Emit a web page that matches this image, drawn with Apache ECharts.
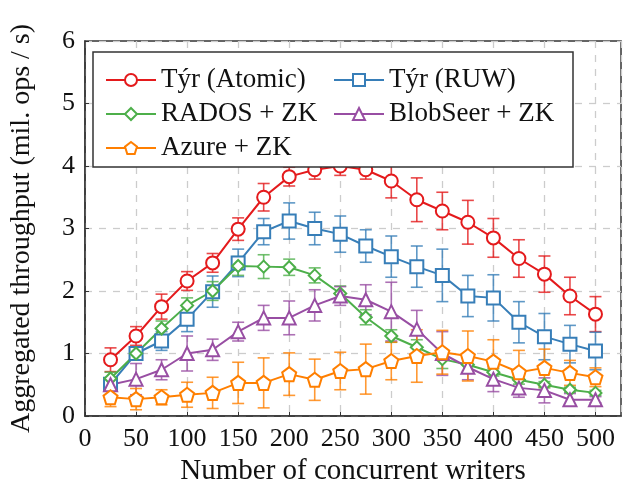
<!DOCTYPE html>
<html>
<head>
<meta charset="utf-8">
<script src="https://cdn.jsdelivr.net/npm/echarts@6/dist/echarts.min.js"></script>
<style>body{margin:0;background:#fff}#chart{width:625px;height:491px}</style>
</head>
<body>
<div id="chart"></div>
<script>
// writers on the x axis
const writers = [25, 50, 75, 100, 125, 150, 175, 200, 225, 250, 275, 300, 325, 350, 375, 400, 425, 450, 475, 500];

// throughput (mil. ops / s) and error half-widths
const tyrAtomic = [0.90, 1.28, 1.75, 2.16, 2.45, 2.99, 3.50, 3.83, 3.94, 4.00, 3.94, 3.76, 3.46, 3.28, 3.10, 2.85, 2.52, 2.27, 1.92, 1.63];
const tyrAtomicErr = [0.19, 0.15, 0.20, 0.15, 0.15, 0.18, 0.22, 0.15, 0.15, 0.15, 0.15, 0.27, 0.35, 0.30, 0.35, 0.31, 0.30, 0.29, 0.30, 0.28];

const tyrRuw = [0.51, 1.00, 1.20, 1.55, 1.99, 2.45, 2.95, 3.12, 3.00, 2.91, 2.72, 2.55, 2.39, 2.25, 1.92, 1.89, 1.50, 1.27, 1.15, 1.04];
const tyrRuwErr = [0.10, 0.10, 0.15, 0.20, 0.25, 0.22, 0.21, 0.29, 0.26, 0.29, 0.26, 0.33, 0.33, 0.42, 0.33, 0.37, 0.33, 0.37, 0.30, 0.30];

const rados = [0.60, 1.00, 1.40, 1.77, 2.00, 2.40, 2.39, 2.38, 2.25, 1.96, 1.58, 1.28, 1.10, 0.91, 0.82, 0.70, 0.58, 0.50, 0.42, 0.37];
const radosErr = [0.10, 0.10, 0.12, 0.12, 0.15, 0.15, 0.19, 0.13, 0.12, 0.12, 0.12, 0.10, 0.12, 0.15, 0.10, 0.06, 0.07, 0.05, 0.04, 0.04];

const blobSeer = [0.50, 0.59, 0.74, 1.00, 1.06, 1.35, 1.57, 1.57, 1.77, 1.92, 1.86, 1.67, 1.39, 1.00, 0.78, 0.59, 0.45, 0.41, 0.26, 0.26];
const blobSeerErr = [0.05, 0.25, 0.16, 0.28, 0.17, 0.15, 0.20, 0.27, 0.25, 0.15, 0.24, 0.47, 0.30, 0.35, 0.20, 0.20, 0.15, 0.20, 0.10, 0.05];

const azure = [0.30, 0.27, 0.30, 0.34, 0.37, 0.53, 0.53, 0.67, 0.58, 0.72, 0.75, 0.88, 0.96, 1.02, 0.96, 0.87, 0.70, 0.77, 0.69, 0.62];
const azureErr = [0.15, 0.17, 0.12, 0.20, 0.25, 0.33, 0.40, 0.34, 0.33, 0.30, 0.40, 0.30, 0.42, 0.35, 0.40, 0.35, 0.35, 0.30, 0.20, 0.15];

const xTicks = [0, 50, 100, 150, 200, 250, 300, 350, 400, 450, 500];
const yTicks = [0, 1, 2, 3, 4, 5, 6];

const FONT = '"Liberation Serif", "Times New Roman", serif';
const pentagon = 'path://M0,-1L0.951,-0.309L0.588,0.809L-0.588,0.809L-0.951,-0.309Z';

const lines = [
  { name: 'Týr (Atomic)', ys: tyrAtomic, err: tyrAtomicErr, color: '#e41a1c', symbol: 'circle', size: 13 },
  { name: 'Týr (RUW)', ys: tyrRuw, err: tyrRuwErr, color: '#377eb8', symbol: 'rect', size: 13 },
  { name: 'RADOS + ZK', ys: rados, err: radosErr, color: '#4daf4a', symbol: 'diamond', size: 12 },
  { name: 'BlobSeer + ZK', ys: blobSeer, err: blobSeerErr, color: '#984ea3', symbol: 'triangle', size: 13 },
  { name: 'Azure + ZK', ys: azure, err: azureErr, color: '#ff7f00', symbol: pentagon, size: 14 }
];

function errorBars(color) {
  return function (params, api) {
    const x = api.value(0), y = api.value(1), e = api.value(2);
    const hi = api.coord([x, y + e]);
    const lo = api.coord([x, y - e]);
    const w = 6;
    const style = { stroke: color, lineWidth: 1.6, opacity: 0.8 };
    return {
      type: 'group',
      children: [
        { type: 'line', shape: { x1: hi[0], y1: hi[1], x2: lo[0], y2: lo[1] }, style },
        { type: 'line', shape: { x1: hi[0] - w, y1: hi[1], x2: hi[0] + w, y2: hi[1] }, style },
        { type: 'line', shape: { x1: lo[0] - w, y1: lo[1], x2: lo[0] + w, y2: lo[1] }, style }
      ]
    };
  };
}

const series = [];
lines.forEach(s => {
  series.push({
    name: s.name + ' err',
    type: 'custom',
    renderItem: errorBars(s.color),
    encode: { x: 0, y: 1 },
    data: writers.map((x, i) => [x, s.ys[i], s.err[i]]),
    z: 1,
    silent: true
  });
});
lines.forEach(s => {
  series.push({
    name: s.name,
    type: 'line',
    data: writers.map((x, i) => [x, s.ys[i]]),
    symbol: s.symbol,
    symbolSize: s.size,
    showAllSymbol: true,
    lineStyle: { color: s.color, width: 2 },
    itemStyle: { color: '#fff', borderColor: s.color, borderWidth: 2 },
    z: 2,
    animation: false
  });
});

const legendText = { fontFamily: FONT, fontSize: 27, color: '#111', lineHeight: 30 };
const legendCommon = {
  orient: 'vertical',
  top: 60,
  itemWidth: 50,
  itemHeight: 15,
  itemGap: 4,
  selectedMode: false,
  textStyle: legendText,
  z: 10
};

const option = {
  animation: false,
  backgroundColor: '#fff',
  grid: { left: 76, right: 4, top: 41, bottom: 75, show: true, borderColor: '#333', borderWidth: 1.5 },
  xAxis: {
    type: 'value',
    min: 0,
    max: 525,
    interval: 50,
    name: 'Number of concurrent writers',
    nameLocation: 'middle',
    nameGap: 41,
    nameTextStyle: { fontFamily: FONT, fontSize: 29, color: '#111' },
    axisLine: { lineStyle: { color: '#333', width: 1.5 } },
    axisTick: { inside: true, length: 4, lineStyle: { color: '#333' } },
    axisLabel: {
      fontFamily: FONT, fontSize: 26, color: '#111', margin: 10, showMaxLabel: false,
      formatter: v => (xTicks.includes(v) ? String(v) : '')
    },
    splitLine: { lineStyle: { color: '#cccccc', type: [7, 7], width: 1.3 } }
  },
  yAxis: {
    type: 'value',
    min: 0,
    max: 6,
    interval: 1,
    name: 'Aggregated throughput (mil. ops / s)',
    nameLocation: 'middle',
    nameGap: 49,
    nameTextStyle: { fontFamily: FONT, fontSize: 28, color: '#111' },
    axisLine: { show: true, lineStyle: { color: '#333', width: 1.5 } },
    axisTick: { show: true, inside: true, length: 4, lineStyle: { color: '#333' } },
    axisLabel: {
      fontFamily: FONT, fontSize: 26, color: '#111', margin: 10,
      formatter: v => (yTicks.includes(v) ? String(v) : '')
    },
    splitLine: { lineStyle: { color: '#cccccc', type: [7, 7], width: 1.3 } }
  },
  legend: [
    Object.assign({}, legendCommon, { left: 100, data: ['Týr (Atomic)', 'RADOS + ZK', 'Azure + ZK'] }),
    Object.assign({}, legendCommon, { left: 328, data: ['Týr (RUW)', 'BlobSeer + ZK'] })
  ],
  graphic: [{
    type: 'rect',
    z: 8,
    shape: { x: 93, y: 52, width: 480, height: 115 },
    style: { fill: '#fff', stroke: '#333', lineWidth: 1.5 }
  }],
  series
};

echarts.init(document.getElementById('chart')).setOption(option);
</script>
</body>
</html>
